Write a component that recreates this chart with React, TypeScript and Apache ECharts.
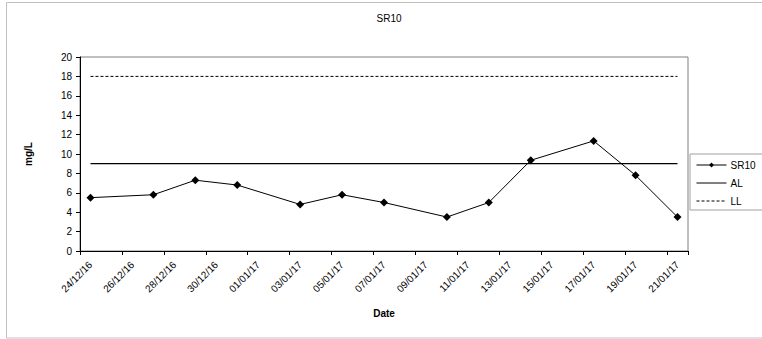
import React, { useEffect, useRef } from "react";
import * as echarts from "echarts";

const titleText = "SR10";
const sampleDates = [
  "24/12/16", "27/12/16", "29/12/16", "31/12/16", "03/01/17", "05/01/17", "07/01/17",
  "10/01/17", "12/01/17", "14/01/17", "17/01/17", "19/01/17", "21/01/17",
];
const sr10Values = [5.5, 5.8, 7.3, 6.8, 4.8, 5.8, 5.0, 3.5, 5.0, 9.35, 11.35, 7.8, 3.5];
const alValues = [9, 9, 9, 9, 9, 9, 9, 9, 9, 9, 9, 9, 9];
const llValues = [18, 18, 18, 18, 18, 18, 18, 18, 18, 18, 18, 18, 18];
const seriesNames = ["SR10", "AL", "LL"];
const yMin = 0;
const yMax = 20;
const yInterval = 2;

const FONT = "'Liberation Sans', Arial, sans-serif";

function parseDate(s: string): number {
  const [d, m, y] = s.split("/").map(Number);
  return Date.UTC(2000 + y, m - 1, d);
}
function fmtDate(t: number): string {
  const dt = new Date(t);
  const p = (n: number) => (n < 10 ? "0" + n : "" + n);
  return p(dt.getUTCDate()) + "/" + p(dt.getUTCMonth() + 1) + "/" + p(dt.getUTCFullYear() % 100);
}
function dayCategories(first: string, last: string): string[] {
  const out: string[] = [];
  const end = parseDate(last);
  for (let t = parseDate(first); t <= end; t += 86400000) out.push(fmtDate(t));
  return out;
}

export default function App() {
  const ref = useRef<HTMLDivElement>(null);
  useEffect(() => {
    if (!ref.current) return;
    const chart = echarts.init(ref.current, undefined, { renderer: "svg" });
    const categories = dayCategories(sampleDates[0], sampleDates[sampleDates.length - 1]);
    const pairs = (vals: number[]) => sampleDates.map((d, i) => [d, vals[i]]);
    chart.setOption({
      animation: false,
      backgroundColor: "#ffffff",
      textStyle: { fontFamily: FONT, color: "#000" },
      title: {
        text: titleText,
        left: 384,
        top: 8,
        textAlign: "center",
        textStyle: { fontFamily: FONT, fontSize: 10, fontWeight: "normal", color: "#000" },
      },
      graphic: [
        {
          type: "rect",
          shape: { x: 6.5, y: 2.5, width: 780, height: 335.5 },
          style: { fill: "none", stroke: "#c0c0c0", lineWidth: 1 },
          silent: true,
          z: -10,
        },
      ],
      grid: {
        left: 80,
        right: 74,
        top: 57,
        height: 194,
        show: true,
        borderColor: "#808080",
        borderWidth: 1,
        backgroundColor: "transparent",
      },
      legend: {
        orient: "vertical",
        left: 690,
        top: 154,
        data: [
          { name: seriesNames[0], lineStyle: { width: 1 }, itemStyle: { color: "#000" } },
          { name: seriesNames[1], lineStyle: { width: 1 }, itemStyle: { opacity: 0 } },
          { name: seriesNames[2], lineStyle: { width: 1, type: [3, 2] }, itemStyle: { opacity: 0 } },
        ],
        itemWidth: 30,
        itemHeight: 6,
        itemGap: 8,
        padding: [6, 8, 4, 6],
        borderColor: "#a0a0a0",
        borderWidth: 1,
        textStyle: { fontFamily: FONT, fontSize: 10, color: "#000", padding: [0, 0, 0, -1] },
      },
      xAxis: {
        type: "category",
        data: categories,
        boundaryGap: true,
        name: "Date",
        nameLocation: "middle",
        nameGap: 57,
        nameTextStyle: { fontFamily: FONT, fontSize: 10, fontWeight: "bold", color: "#000" },
        axisLine: { lineStyle: { color: "#000", width: 1 } },
        axisTick: { show: true, interval: 1, length: 4, lineStyle: { color: "#000" } },
        axisLabel: {
          interval: 1,
          rotate: 45,
          margin: 12,
          fontFamily: FONT,
          fontSize: 10,
          color: "#000",
        },
        splitLine: { show: false },
      },
      yAxis: {
        type: "value",
        min: yMin,
        max: yMax,
        interval: yInterval,
        name: "mg/L",
        nameLocation: "middle",
        nameGap: 47,
        nameTextStyle: { fontFamily: FONT, fontSize: 10, fontWeight: "bold", color: "#000" },
        axisLine: { show: true, lineStyle: { color: "#000", width: 1 } },
        axisTick: { show: true, length: 4, lineStyle: { color: "#000" } },
        axisLabel: { margin: 8, fontFamily: FONT, fontSize: 10, color: "#000" },
        splitLine: { show: false },
      },
      series: [
        {
          name: seriesNames[0],
          type: "line",
          data: pairs(sr10Values),
          symbol: "diamond",
          symbolSize: 8,
          itemStyle: { color: "#000" },
          lineStyle: { color: "#000", width: 1 },
          z: 5,
        },
        {
          name: seriesNames[1],
          type: "line",
          data: pairs(alValues),
          symbol: "none",
          itemStyle: { color: "#000" },
          lineStyle: { color: "#000", width: 1.3 },
        },
        {
          name: seriesNames[2],
          type: "line",
          data: pairs(llValues),
          symbol: "none",
          itemStyle: { color: "#000" },
          lineStyle: { color: "#000", width: 1, type: [3, 2] },
        },
      ],
    });
    return () => chart.dispose();
  }, []);
  return (
    <div
      ref={ref}
      style={{ position: "fixed", left: 0, top: 0, width: 762, height: 339 }}
    />
  );
}
